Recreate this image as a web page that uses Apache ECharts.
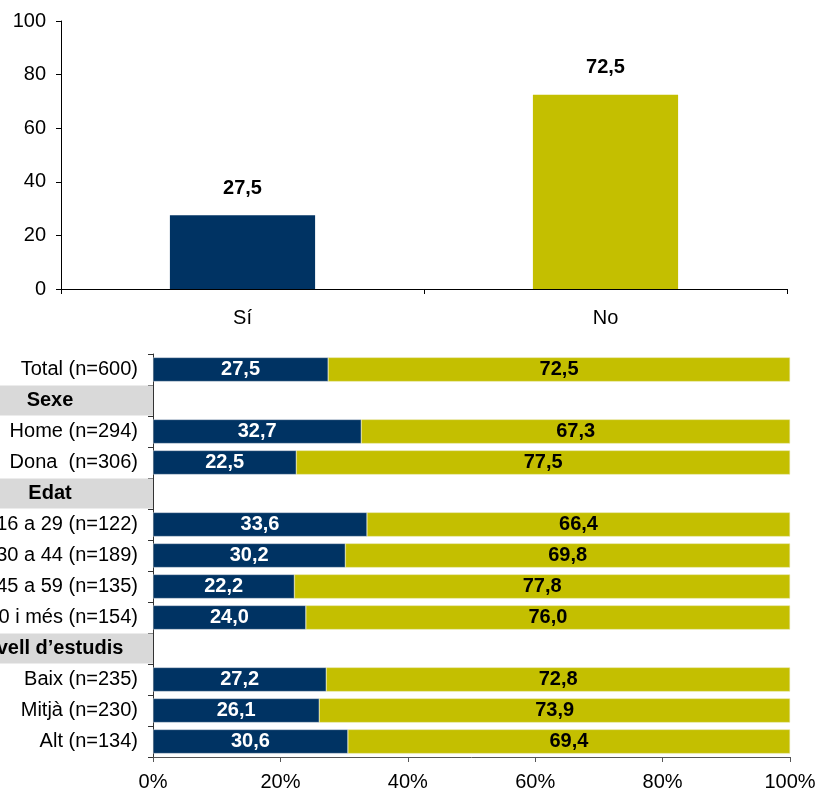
<!DOCTYPE html>
<html><head><meta charset="utf-8">
<script src="https://cdn.jsdelivr.net/npm/echarts@6/dist/echarts.min.js"></script>
<style>html,body{margin:0;padding:0;background:#fff}#c{width:822px;height:798px}</style>
</head><body><div id="c"></div>
<script>
// Top chart
var topCategories = ['Sí', 'No'];
var topValues = [27.5, 72.5];
var yTicks = [0, 20, 40, 60, 80, 100];

// Bottom chart
var rowLabels = ['Total (n=600)', 'Sexe', 'Home (n=294)', 'Dona  (n=306)', 'Edat', '16 a 29 (n=122)', '30 a 44 (n=189)', '45 a 59 (n=135)', '60 i més (n=154)', 'Nivell d’estudis', 'Baix (n=235)', 'Mitjà (n=230)', 'Alt (n=134)'];
var headerRows = ['Sexe', 'Edat', 'Nivell d’estudis'];
var siValues = [27.5, null, 32.7, 22.5, null, 33.6, 30.2, 22.2, 24.0, null, 27.2, 26.1, 30.6];
var noValues = [72.5, null, 67.3, 77.5, null, 66.4, 69.8, 77.8, 76.0, null, 72.8, 73.9, 69.4];
var xTicks = ['0%', '20%', '40%', '60%', '80%', '100%'];

var NAVY = '#003363';
var OLIVE = '#c4bf00';
var FONT = '"Liberation Sans", Arial, sans-serif';
function fmt(v) { return v == null ? '' : Number(v).toFixed(1).replace('.', ','); }

var chart = echarts.init(document.getElementById('c'), null, {renderer: 'canvas'});
chart.setOption({
  animation: false,
  textStyle: {fontFamily: FONT},
  grid: [
    {left: 61, right: 35, top: 21, height: 268, containLabel: false, outerBoundsMode: 'none'},
    {left: 153, right: 32, top: 354, height: 403, containLabel: false, outerBoundsMode: 'none'}
  ],
  xAxis: [
    {
      gridIndex: 0, type: 'category', data: topCategories,
      axisLine: {lineStyle: {color: '#000', width: 1}},
      axisTick: {show: true, length: 5, lineStyle: {color: '#000'}},
      axisLabel: {color: '#000', fontSize: 20, margin: 19, fontFamily: FONT}
    },
    {
      gridIndex: 1, type: 'value', min: 0, max: 100, interval: 20,
      axisLine: {show: true, lineStyle: {color: '#555'}},
      axisTick: {show: true, length: 5, lineStyle: {color: '#555'}},
      splitLine: {show: false},
      axisLabel: {color: '#000', fontSize: 20, margin: 15, fontFamily: FONT,
        formatter: function (v) { return xTicks[Math.round(v / 20)]; }}
    }
  ],
  yAxis: [
    {
      gridIndex: 0, type: 'value', min: yTicks[0], max: yTicks[yTicks.length - 1], interval: 20,
      axisLine: {show: true, lineStyle: {color: '#000'}},
      axisTick: {show: true, length: 5, lineStyle: {color: '#000'}},
      splitLine: {show: false},
      axisLabel: {color: '#000', fontSize: 20, margin: 15, fontFamily: FONT}
    },
    {
      gridIndex: 1, type: 'category', data: rowLabels, inverse: true,
      axisLine: {show: true, lineStyle: {color: '#333'}},
      axisTick: {show: true, length: 5, lineStyle: {color: '#333'}},
      axisLabel: {
        margin: 0, fontFamily: FONT,
        formatter: function (v) {
          return headerRows.indexOf(v) >= 0 ? '{h|' + v + '}' : '{n|' + v + '}';
        },
        rich: {
          n: {fontSize: 20, color: '#000', padding: [0, 15, 0, 0], fontFamily: FONT},
          h: {fontSize: 20, color: '#000', fontWeight: 'bold', backgroundColor: '#d9d9d9',
              width: 206, height: 30, align: 'center', verticalAlign: 'middle', fontFamily: FONT}
        }
      }
    }
  ],
  series: [
    {
      type: 'bar', xAxisIndex: 0, yAxisIndex: 0, barWidth: '40%',
      data: topValues.map(function (v, i) { return {value: v, itemStyle: {color: i === 0 ? NAVY : OLIVE}}; }),
      label: {show: true, position: 'top', distance: 17, fontSize: 20, fontWeight: 'bold', color: '#000',
        fontFamily: FONT, formatter: function (p) { return fmt(p.value); }}
    },
    {
      name: 'Sí', type: 'bar', stack: 'tot', xAxisIndex: 1, yAxisIndex: 1, barWidth: '78%',
      data: siValues, itemStyle: {color: NAVY, borderColor: '#c8d2dc', borderWidth: 0.5},
      label: {show: true, position: 'inside', fontSize: 20, fontWeight: 'bold', color: '#fff',
        fontFamily: FONT, formatter: function (p) { return fmt(p.value); }}
    },
    {
      name: 'No', type: 'bar', stack: 'tot', xAxisIndex: 1, yAxisIndex: 1, barWidth: '78%',
      data: noValues, itemStyle: {color: OLIVE, borderColor: '#e4e29a', borderWidth: 0.5},
      label: {show: true, position: 'inside', fontSize: 20, fontWeight: 'bold', color: '#000',
        fontFamily: FONT, formatter: function (p) { return fmt(p.value); }}
    }
  ]
});
</script></body></html>
